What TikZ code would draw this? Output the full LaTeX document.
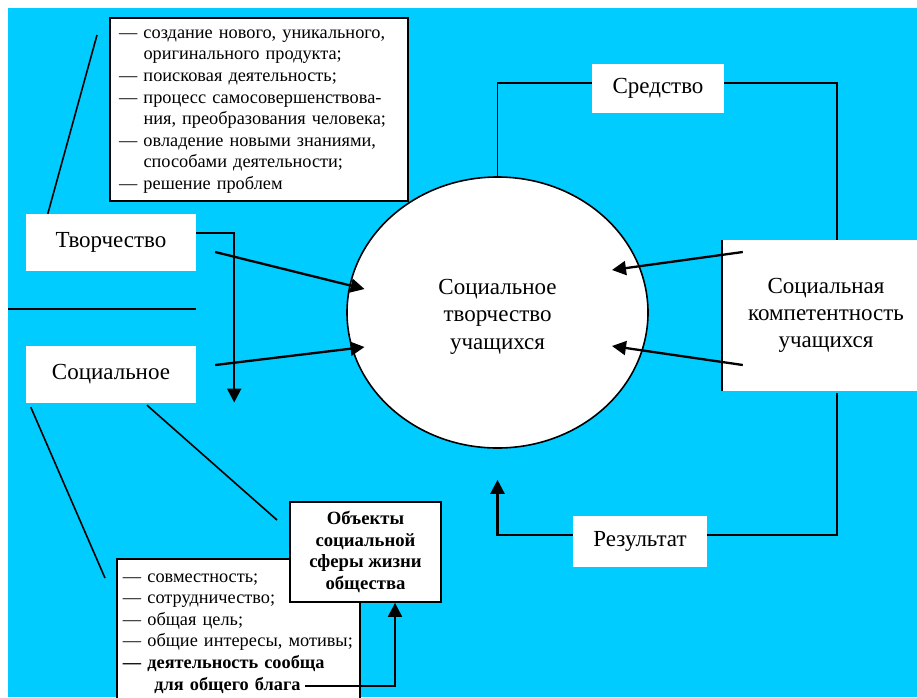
\documentclass[tikz,border=0pt]{standalone}
\usepackage{fontspec}
\setmainfont{Liberation Serif}
\usetikzlibrary{calc,shapes.geometric,arrows.meta}
\definecolor{skycyan}{RGB}{0,204,255}

\tikzset{
	plainbox/.style={fill=white, inner sep=0pt, align=center, font=\fontsize{23}{27}\selectfont},
	listbox/.style={draw, fill=white, line width=1.8pt, align=left, font=\fontsize{18.3}{21.6}\selectfont},
	thinline/.style={line width=1.6pt},
	arr/.style={line width=2.3pt, -{Triangle[length=14pt,width=14pt]}}
}

\begin{document}
\begin{tikzpicture}[x=1pt,y=-1pt]
		%%%%% START %%%%%
		
		\path[use as bounding box] (0,0) rectangle (917,697);
		\fill[skycyan] (8,8) rectangle (917,697);
		
		\node[listbox, line width=2.2pt, anchor=north west, text width=280pt, inner xsep=9pt, minimum height=183pt] (tvorList) at (109,17) {%
			\begin{tabular}{@{}l@{\ }l@{}}
				--- & создание нового, уникального,\\
				& оригинального продукта;\\
				--- & поисковая деятельность;\\
				--- & процесс самосовершенствова-\\
				& ния, преобразования человека;\\
				--- & овладение новыми знаниями,\\
				& способами деятельности;\\
				--- & решение проблем
			\end{tabular}};
		
		\node[plainbox, minimum width=170pt, minimum height=57pt] (tvor) at (111,242.5) {Творчество};
		\node[plainbox, minimum width=170pt, minimum height=57pt] (soc) at (111,374.5) {Социальное};
		
		\node[ellipse, draw, fill=white, line width=1.6pt, minimum width=301pt, minimum height=271pt] (core) at (497.5,312.5) {};
		\node[align=center, inner sep=0pt, font=\fontsize{23}{27.5}\selectfont] (coreText) at ($(core.center)+(0,4)$) {Социальное\\творчество\\учащихся};
		
		\node[plainbox, minimum width=132pt, minimum height=49pt] (sred) at (658,88.5) {Средство};
		\node[plainbox, minimum width=208pt, minimum height=151pt] (compet) at (826,315.5) {Социальная\\компетентность\\учащихся};
		\draw[thinline] (compet.north west) -- (compet.south west);
		\node[plainbox, minimum width=134pt, minimum height=51pt] (res) at (640,541.5) {Результат};
		
		% box runs on past the lower edge
		\draw[line width=1.8pt, fill=white] (117,559) rectangle (360,710);
		\node[listbox, draw=none, fill=none, anchor=north west, text width=233pt, inner xsep=5pt, inner ysep=7pt] (socList) at (117,559) {%
			\begin{tabular}{@{}l@{\ }l@{}}
				--- & совместность;\\
				--- & сотрудничество;\\
				--- & общая цель;\\
				--- & общие интересы, мотивы;\\
				\textbf{---} & \textbf{деятельность сообща}\\
				& \hspace{7pt}\textbf{для общего блага}
			\end{tabular}};
		\node[listbox, minimum width=151pt, minimum height=100pt, inner sep=0pt, align=center, font=\fontsize{18.7}{21.5}\selectfont\bfseries] (obj) at (365.5,552) {Объекты\\социальной\\сферы жизни\\общества};
		
		\coordinate (topEnd) at (97,35);
		\coordinate (sepL) at (8,309);
		\coordinate (listEnd) at (105,578);
		\coordinate (objEnd) at (277,520);
		\coordinate (blagoEnd) at (305,686);
		
		\draw[thinline] ($(tvor.north west)+(22,0)$) -- (topEnd);
		\draw[thinline] (sepL) -- (sepL -| tvor.east);
		\draw[thinline] ($(soc.south west)+(5,4)$) -- (listEnd);
		\draw[thinline] ($(soc.south)+(36,2)$) -- (objEnd);
		
		\draw[arr] ($(tvor.east)+(0,-9.5)$) -| ($(tvor.east)+(38,160)$);
		\draw[arr] ($(tvor.east)+(19,9.5)$) -- ($(core.center)+(-133,-23.5)$);
		\draw[arr] ($(soc.east)+(19,-9.5)$) -- ($(core.center)+(-133,34.5)$);
		
		\draw[arr] ($(compet.west)+(21,-63.5)$) -- ($(core.center)+(114.5,-42.5)$);
		\draw[arr] ($(compet.west)+(21,49.5)$) -- ($(core.center)+(114.5,33.5)$);
		
		\draw[thinline] ($(sred.west)+(0,-5.5)$) -| (core.north);
		\draw[thinline] ($(sred.east)+(0,-5.5)$) -| ($(compet.north)+(11,0)$);
		\draw[thinline] ($(compet.south)+(11,2)$) |- ($(res.east)+(0,-6.5)$);
		\draw[arr] ($(res.west)+(0,-6.5)$) -| ($(core.south)+(0,31)$);
		
		\draw[arr] (blagoEnd) -| ($(obj.south)+(29.5,0)$);
		
		%%%%% END %%%%%
\end{tikzpicture}
\end{document}
